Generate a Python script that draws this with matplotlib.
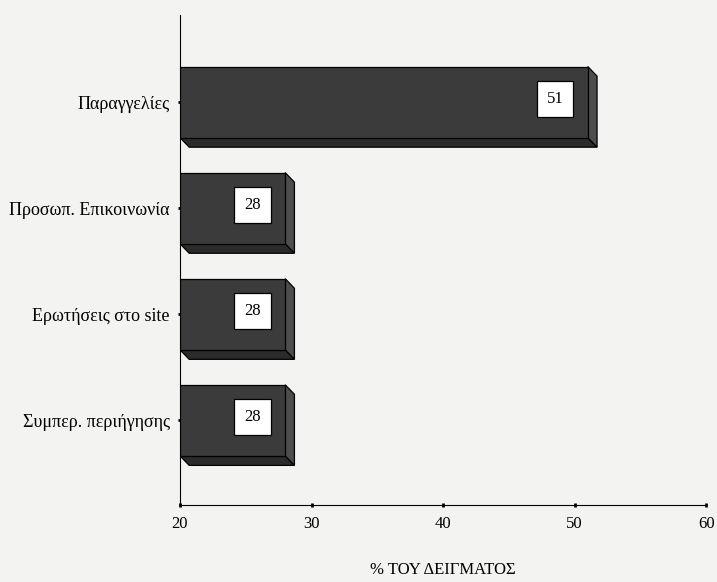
import matplotlib.pyplot as plt
from matplotlib.patches import Polygon, Rectangle

# Survey shares, top to bottom
categories = ['Παραγγελίες', 'Προσωπ. Επικοινωνία', 'Ερωτήσεις στο site', 'Συμπερ. περιήγησης']
values = [51, 28, 28, 28]
xticks = [20, 30, 40, 50, 60]

plt.rcParams['font.family'] = ['Liberation Serif', 'DejaVu Serif']

fig = plt.figure(figsize=(7.17, 5.82), dpi=100, facecolor='#f3f3f1')
ax = fig.add_axes([0.251, 0.132, 0.734, 0.842])
ax.set_facecolor('#f3f3f1')

base = 20
height = 0.67
dx, dy = 0.7, 0.09   # depth offset of the 3D look (x units, category units)
ypos = list(range(len(categories) - 1, -1, -1))

for y, v in zip(ypos, values):
    top, bot = y + height / 2, y - height / 2
    # bottom face
    ax.add_patch(Polygon([(base, bot), (v, bot), (v + dx, bot - dy), (base + dx, bot - dy)],
                         closed=True, facecolor='#2b2b2b', edgecolor='black', lw=0.9, zorder=2))
    # right side face
    ax.add_patch(Polygon([(v, top), (v + dx, top - dy), (v + dx, bot - dy), (v, bot)],
                         closed=True, facecolor='#4d4d4d', edgecolor='black', lw=0.9, zorder=2))
    # front face
    ax.add_patch(Rectangle((base, bot), v - base, height,
                           facecolor='#3b3b3b', edgecolor='black', lw=0.9, zorder=3))
    ax.text(v - 2.5, y + 0.03, str(v), ha='center', va='center', fontsize=12, zorder=4,
            bbox=dict(boxstyle='square,pad=0.6', facecolor='white', edgecolor='black', lw=0.9))

ax.set_xlim(20, 60)
ax.set_ylim(-0.8, 3.82)
ax.set_xticks(xticks)
ax.set_yticks(ypos)
ax.set_yticklabels(categories, fontsize=13)
ax.tick_params(axis='x', labelsize=12, length=3, width=2, direction='inout', pad=6)
ax.tick_params(axis='y', length=3, width=2, direction='inout', pad=6)
ax.spines['top'].set_visible(False)
ax.spines['right'].set_visible(False)
ax.set_xlabel('% ΤΟΥ ΔΕΙΓΜΑΤΟΣ', fontsize=12, labelpad=22)

plt.savefig('out.png', dpi=100, facecolor=fig.get_facecolor())
